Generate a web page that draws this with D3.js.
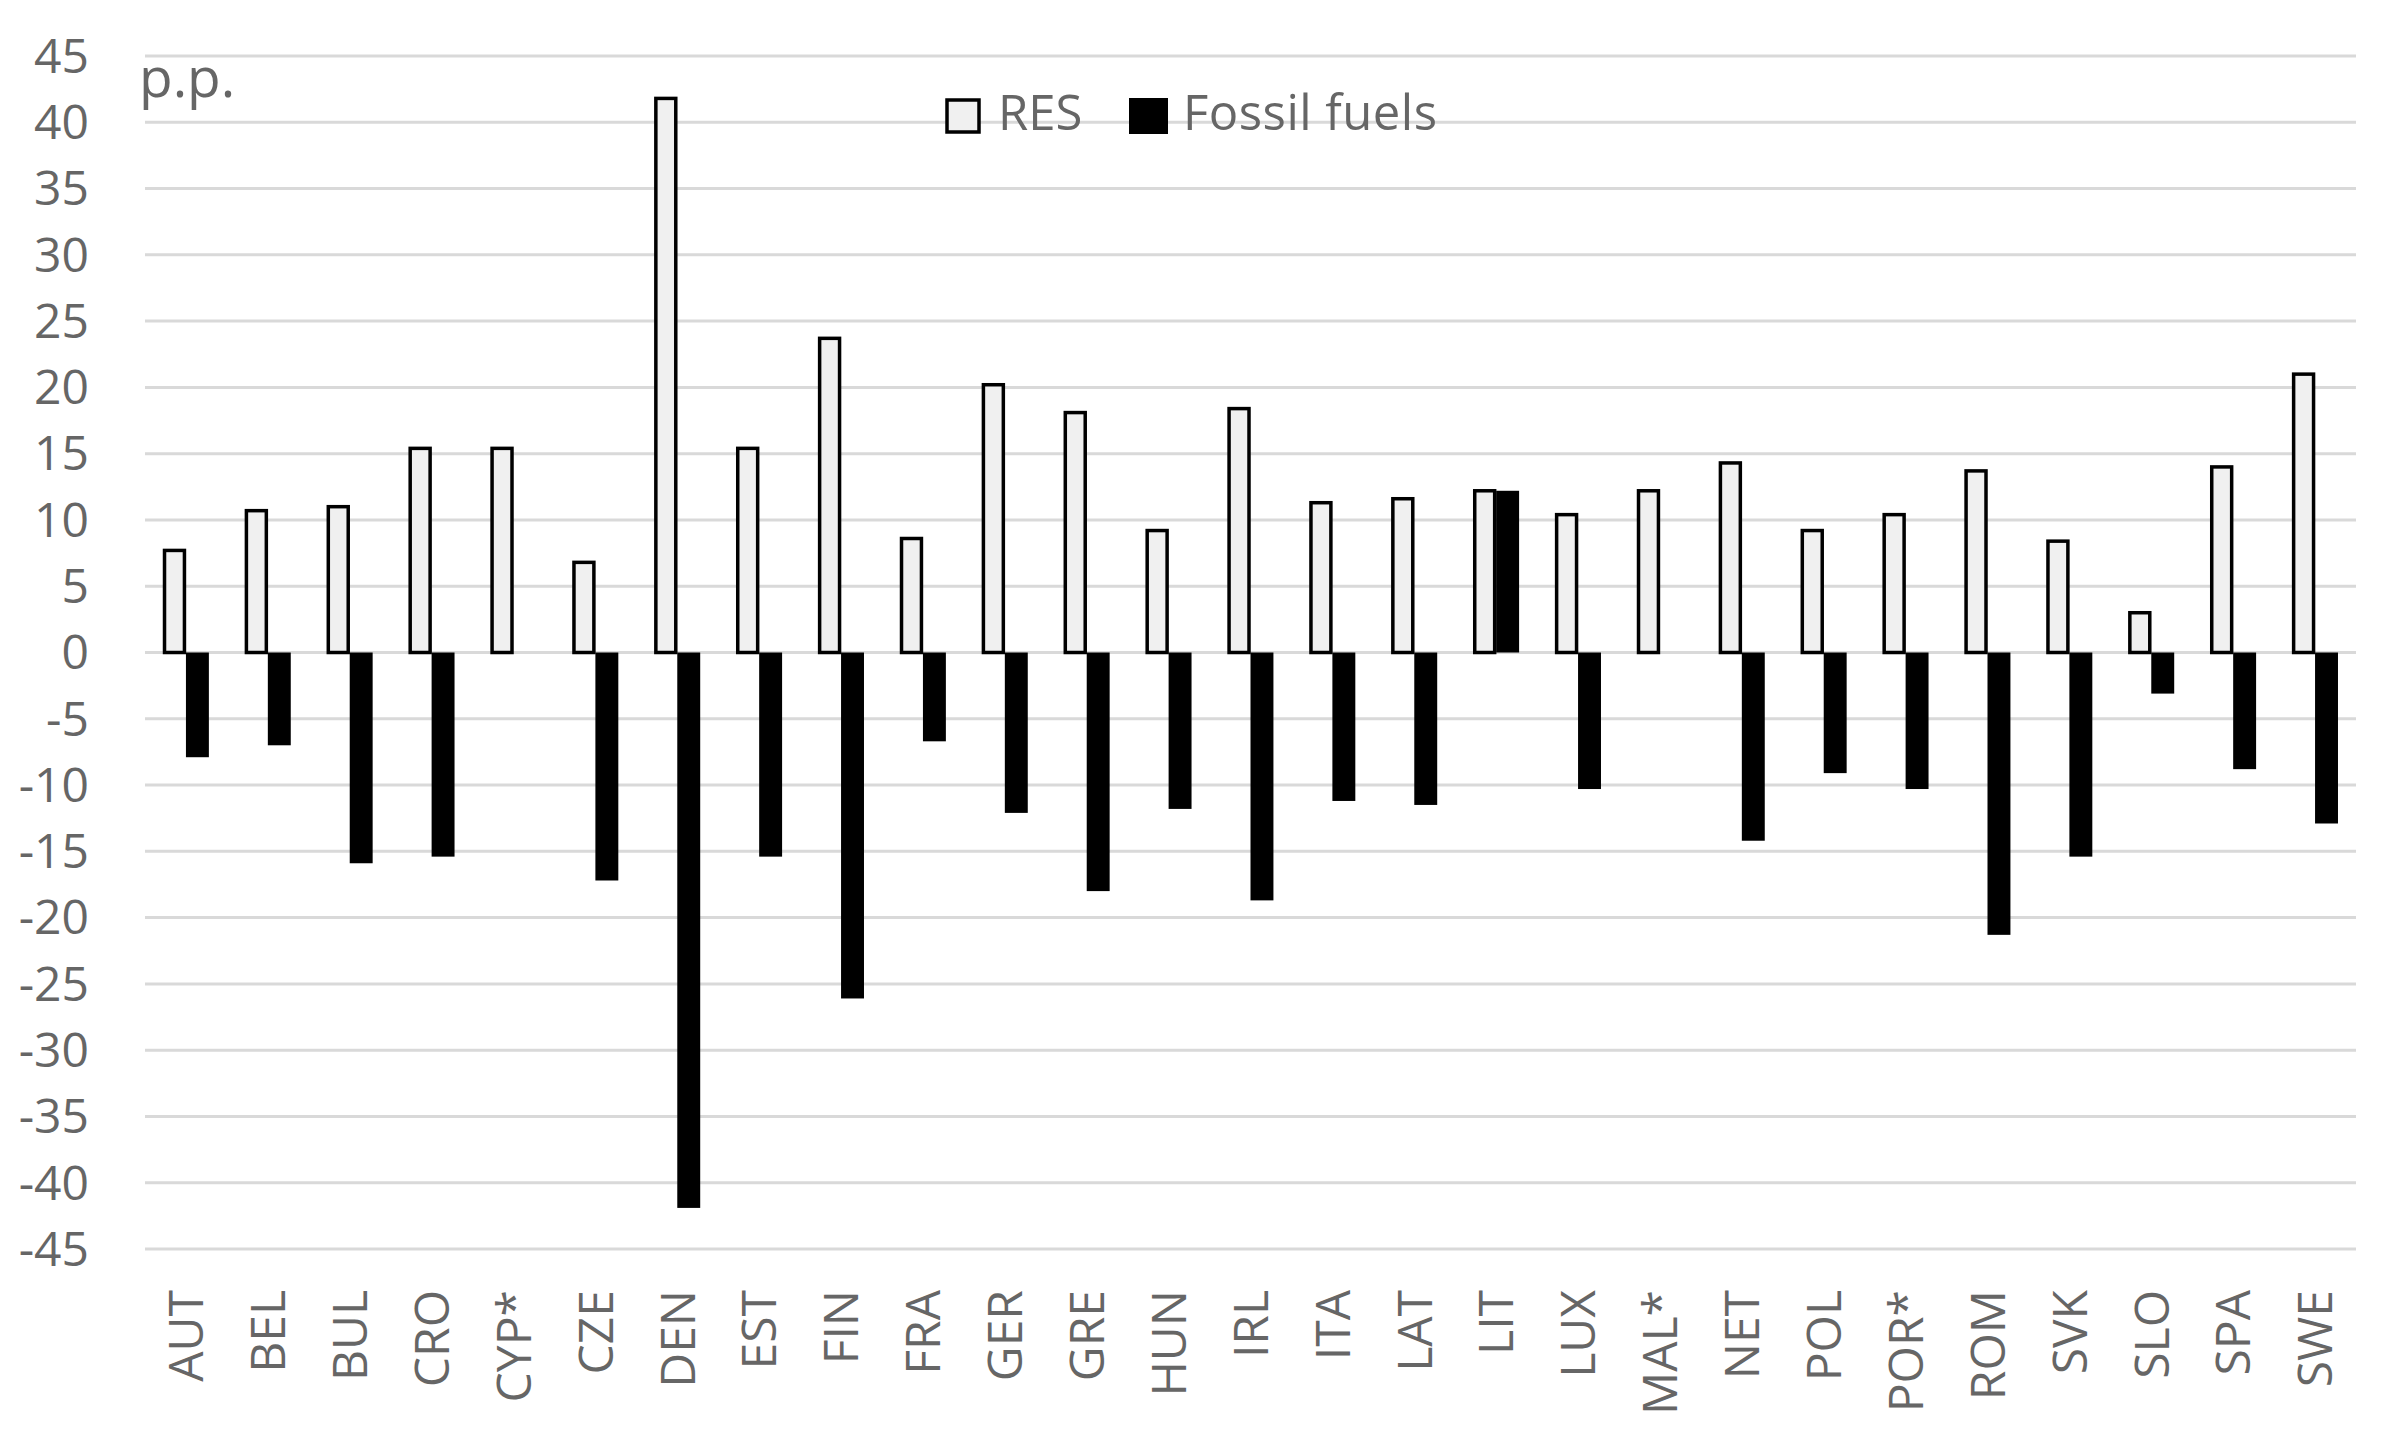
<!DOCTYPE html>
<html>
<head>
<meta charset="utf-8">
<script src="https://cdn.jsdelivr.net/npm/d3@7/dist/d3.min.js"></script>
<style>
  html, body { margin: 0; padding: 0; background: #fff; }
  svg { display: block; }
  text { font-family: "Open Sans", "Noto Sans", sans-serif; fill: #666; }
</style>
</head>
<body>
<svg id="chart" width="2393" height="1451"></svg>
<script>
const categories = ["AUT","BEL","BUL","CRO","CYP*","CZE","DEN","EST","FIN","FRA","GER","GRE","HUN","IRL","ITA","LAT","LIT","LUX","MAL*","NET","POL","POR*","ROM","SVK","SLO","SPA","SWE"];
const resValues = [7.7,10.7,11.0,15.4,15.4,6.8,41.8,15.4,23.7,8.6,20.2,18.1,9.2,18.4,11.3,11.6,12.2,10.4,12.2,14.3,9.2,10.4,13.7,8.4,3.0,14.0,21.0];
const fossilValues = [-7.9,-7.0,-15.9,-15.4,0,-17.2,-41.9,-15.4,-26.1,-6.7,-12.1,-18.0,-11.8,-18.7,-11.2,-11.5,12.2,-10.3,0,-14.2,-9.1,-10.3,-21.3,-15.4,-3.1,-8.8,-12.9];
const yTicks = [45,40,35,30,25,20,15,10,5,0,-5,-10,-15,-20,-25,-30,-35,-40,-45];
const seriesNames = ["RES","Fossil fuels"];
const unitLabel = "p.p.";

(function () {
const svg = d3.select("#chart");
const mLeft = 145, mRight = 2356, mTop = 56, mBottom = 1249;

const y = d3.scaleLinear().domain([-45,45]).range([mBottom, mTop]);
const x0 = d3.scaleBand().domain(categories).range([mLeft, mRight]).paddingInner(0.44).paddingOuter(0.22);
const x1 = d3.scaleBand().domain(seriesNames).range([0, x0.bandwidth()]).padding(0);

// gridlines
svg.append("g").selectAll("line").data(yTicks).join("line")
  .attr("x1", mLeft).attr("x2", mRight)
  .attr("y1", d => y(d)).attr("y2", d => y(d))
  .attr("stroke", "#d9d9d9").attr("stroke-width", 3);

// y axis labels
const yAxis = d3.axisLeft(y).tickValues(yTicks).tickSize(0).tickPadding(0).tickFormat(d => d);
const gy = svg.append("g").attr("transform", "translate(89,0)").call(yAxis);
gy.select(".domain").remove();
gy.selectAll("text").attr("font-size", 48).attr("fill", "#666")
  .style("font-family", '"Open Sans", sans-serif').attr("dy", "0.34em");

// bars
const rows = categories.map((c, i) => ({c, res: resValues[i], fos: fossilValues[i]}));
const g = svg.append("g");
g.selectAll("rect.res").data(rows).join("rect").attr("class","res")
  .attr("x", d => x0(d.c) + x1("RES") + 1.5)
  .attr("width", x1.bandwidth() - 3)
  .attr("y", d => y(Math.max(0, d.res)))
  .attr("height", d => Math.abs(y(d.res) - y(0)))
  .attr("fill", "#f0f0f0").attr("stroke", "#000").attr("stroke-width", 3.5);
g.selectAll("rect.fos").data(rows.filter(d => d.fos !== 0)).join("rect").attr("class","fos")
  .attr("x", d => x0(d.c) + x1("Fossil fuels"))
  .attr("width", x1.bandwidth())
  .attr("y", d => y(Math.max(0, d.fos)))
  .attr("height", d => Math.abs(y(d.fos) - y(0)))
  .attr("fill", "#000");

// x labels
const xAxis = d3.axisBottom(x0).tickSize(0).tickPadding(0);
const gx = svg.append("g").attr("transform", "translate(0,1290)").call(xAxis);
gx.select(".domain").remove();
gx.selectAll("text")
  .attr("font-size", 48).attr("fill", "#666")
  .style("font-family", '"Open Sans", sans-serif')
  .attr("text-anchor", "end")
  .attr("transform", "rotate(-90)")
  .attr("x", 0).attr("y", 0).attr("dy", "0.36em");

// unit label
svg.append("text").attr("x", 139).attr("y", 97).attr("font-size", 55).text(unitLabel);

// legend
const legend = svg.append("g");
legend.append("rect").attr("x", 947).attr("y", 100).attr("width", 32).attr("height", 32)
  .attr("fill", "#f0f0f0").attr("stroke", "#000").attr("stroke-width", 3.5);
legend.append("text").attr("x", 998).attr("y", 130).attr("font-size", 49).text(seriesNames[0]);
legend.append("rect").attr("x", 1129).attr("y", 98).attr("width", 39).attr("height", 36).attr("fill", "#000");
legend.append("text").attr("x", 1183).attr("y", 130).attr("font-size", 49)
  .attr("textLength", 254).attr("lengthAdjust", "spacing").text(seriesNames[1]);
})();
</script>
</body>
</html>
